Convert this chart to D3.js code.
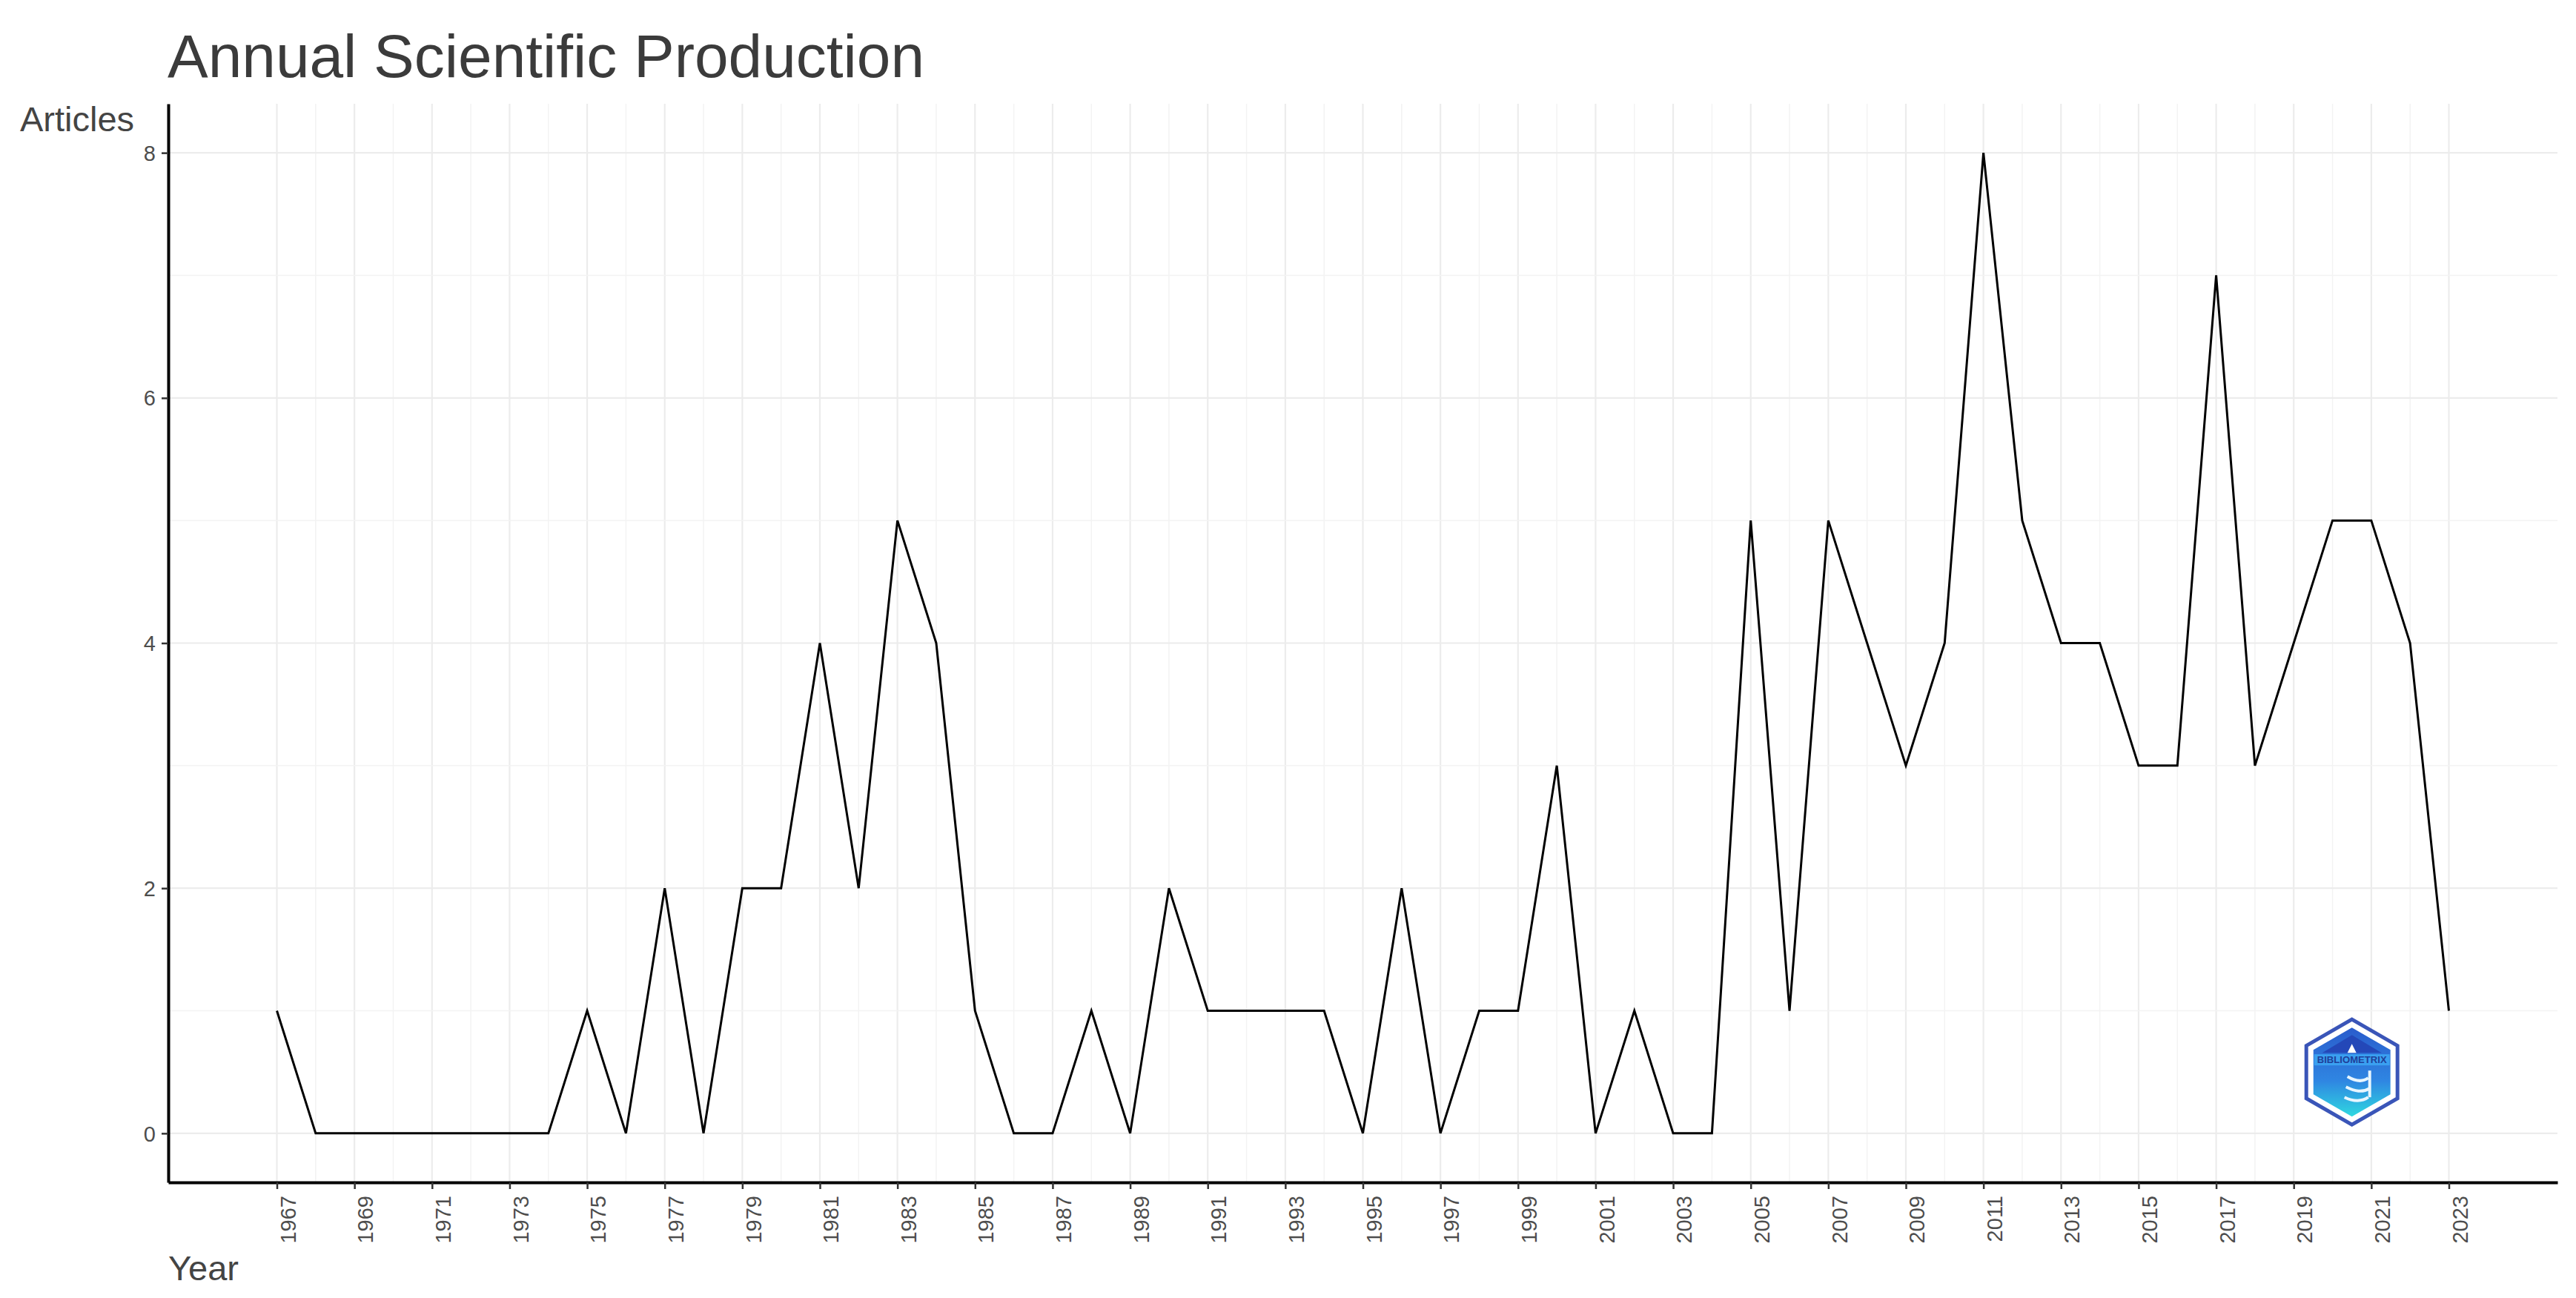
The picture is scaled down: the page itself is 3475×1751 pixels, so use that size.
<!DOCTYPE html>
<html>
<head>
<meta charset="utf-8">
<script src="https://cdn.jsdelivr.net/npm/d3@7/dist/d3.min.js"></script>
<style>
  html, body { margin: 0; padding: 0; background: #ffffff; }
  svg { display: block; font-family: "Liberation Sans", Arial, Helvetica, sans-serif; }
</style>
</head>
<body>
<svg id="chart" width="3475" height="1751"></svg>
<script>
// ---- data ----
const years = [1967,1968,1969,1970,1971,1972,1973,1974,1975,1976,1977,1978,1979,1980,1981,1982,1983,1984,1985,1986,1987,1988,1989,1990,1991,1992,1993,1994,1995,1996,1997,1998,1999,2000,2001,2002,2003,2004,2005,2006,2007,2008,2009,2010,2011,2012,2013,2014,2015,2016,2017,2018,2019,2020,2021,2022,2023];
const articles = [1,0,0,0,0,0,0,0,1,0,2,0,2,2,4,2,5,4,1,0,0,1,0,2,1,1,1,1,0,2,0,1,1,3,0,1,0,0,5,1,5,4,3,4,8,5,4,4,3,3,7,3,4,5,5,4,1];
const xTickLabels = [1967,1969,1971,1973,1975,1977,1979,1981,1983,1985,1987,1989,1991,1993,1995,1997,1999,2001,2003,2005,2007,2009,2011,2013,2015,2017,2019,2021,2023];
const yTickLabels = [0,2,4,6,8];
const yMinorTicks = [1,3,5,7];
const titleText = "Annual Scientific Production";
const xTitle = "Year";
const yTitle = "Articles";

// ---- layout ----
const svg = d3.select("#chart");
const panel = { left: 227, right: 3450, top: 140, bottom: 1595 };

const xMin = d3.min(years), xMax = d3.max(years);
const xPad = (xMax - xMin) * 0.05;
const yMaxV = d3.max(articles);
const yPad = yMaxV * 0.05;

const x = d3.scaleLinear().domain([xMin - xPad, xMax + xPad]).range([panel.left, panel.right]);
const y = d3.scaleLinear().domain([0 - yPad, yMaxV + yPad]).range([panel.bottom, panel.top]);

// ---- grid ----
const grid = svg.append("g");
const xMinorTicks = years.filter(v => !xTickLabels.includes(v));
grid.selectAll(".vminor").data(xMinorTicks).join("line")
  .attr("x1", d => x(d)).attr("x2", d => x(d))
  .attr("y1", panel.top).attr("y2", panel.bottom)
  .attr("stroke", "#f3f3f3").attr("stroke-width", 1.5);
grid.selectAll(".vmajor").data(xTickLabels).join("line")
  .attr("x1", d => x(d)).attr("x2", d => x(d))
  .attr("y1", panel.top).attr("y2", panel.bottom)
  .attr("stroke", "#ececec").attr("stroke-width", 2.2);
grid.selectAll(".hminor").data(yMinorTicks).join("line")
  .attr("x1", panel.left).attr("x2", panel.right)
  .attr("y1", d => y(d)).attr("y2", d => y(d))
  .attr("stroke", "#f3f3f3").attr("stroke-width", 1.5);
grid.selectAll(".hmajor").data(yTickLabels).join("line")
  .attr("x1", panel.left).attr("x2", panel.right)
  .attr("y1", d => y(d)).attr("y2", d => y(d))
  .attr("stroke", "#ececec").attr("stroke-width", 2.2);

// ---- logo (bibliometrix badge) ----
const logo = svg.append("g").attr("transform", `translate(${x(2020.5)},${y(0.5)})`);
const defs = svg.append("defs");
const grad = defs.append("linearGradient").attr("id", "lg").attr("x1", "0").attr("y1", "0").attr("x2", "0").attr("y2", "1");
grad.append("stop").attr("offset", "0%").attr("stop-color", "#2a5ccc");
grad.append("stop").attr("offset", "60%").attr("stop-color", "#2f86e2");
grad.append("stop").attr("offset", "100%").attr("stop-color", "#2fd8e0");
const hexPts = (r) => d3.range(6).map(i => {
  const a = Math.PI / 180 * (60 * i - 90);
  return [r * Math.cos(a), r * Math.sin(a)];
});
logo.append("polygon").attr("points", hexPts(71).map(p => p.join(",")).join(" "))
  .attr("fill", "#ffffff").attr("stroke", "#3a55b8").attr("stroke-width", 5);
logo.append("polygon").attr("points", hexPts(60).map(p => p.join(",")).join(" "))
  .attr("fill", "url(#lg)");
logo.append("path").attr("d", "M-40,-26 L0,-50 L40,-26 Z").attr("fill", "#2448b8");
logo.append("path").attr("d", "M-6,-26 L0,-38 L6,-26 Z").attr("fill", "#ffffff");
logo.append("rect").attr("x", -51).attr("y", -24).attr("width", 102).attr("height", 15).attr("fill", "#3aa0f0");
logo.append("text").attr("x", 0).attr("y", -12).attr("text-anchor", "middle")
  .attr("font-size", 12).attr("font-weight", "bold").attr("fill", "#1f3f99").attr("textLength", 94)
  .attr("lengthAdjust", "spacingAndGlyphs")
  .text("BIBLIOMETRIX");
logo.append("path").attr("d", "M-6,6 C4,12 14,14 22,8 M-8,20 C4,26 14,28 24,22 M-10,34 C2,40 14,40 22,34")
  .attr("stroke", "#e8f6ff").attr("stroke-width", 4).attr("fill", "none");
logo.append("path").attr("d", "M24,-2 L24,34").attr("stroke", "#e8f6ff").attr("stroke-width", 4);

// ---- data line ----
const line = d3.line().x((d, i) => x(years[i])).y(d => y(d));
svg.append("path").datum(articles)
  .attr("d", line).attr("fill", "none").attr("stroke", "#000000").attr("stroke-width", 3)
  .attr("stroke-linejoin", "miter");

// ---- axes ----
const xAxis = d3.axisBottom(x).tickValues(xTickLabels).tickFormat(d3.format("d")).tickSize(9).tickSizeOuter(0);
const gx = svg.append("g").attr("transform", `translate(0,${panel.bottom})`).call(xAxis);
gx.select(".domain").attr("stroke", "#000").attr("stroke-width", 4);
gx.selectAll(".tick line").attr("stroke", "#333").attr("stroke-width", 2.5);
gx.selectAll(".tick text")
  .attr("font-size", 29).attr("fill", "#4d4d4d")
  .attr("text-anchor", "end")
  .attr("transform", "rotate(-90)")
  .attr("x", -18).attr("y", 0).attr("dy", "0.85em").attr("dx", 0);

const yAxis = d3.axisLeft(y).tickValues(yTickLabels).tickFormat(d3.format("d")).tickSize(9).tickSizeOuter(0);
const gy = svg.append("g").attr("transform", `translate(${panel.left},0)`).call(yAxis);
gy.select(".domain").attr("stroke", "#000").attr("stroke-width", 4);
gy.selectAll(".tick line").attr("stroke", "#333").attr("stroke-width", 2.5);
gy.selectAll(".tick text").attr("font-size", 29).attr("fill", "#4d4d4d").attr("x", -17).attr("dy", "0.35em");

// ---- titles ----
svg.append("text").attr("x", 226).attr("y", 104).attr("font-size", 82).attr("fill", "#3b3b3b").text(titleText);
svg.append("text").attr("x", 27).attr("y", 177).attr("font-size", 47).attr("fill", "#444444").text(yTitle);
svg.append("text").attr("x", 227).attr("y", 1727).attr("font-size", 47).attr("fill", "#444444").text(xTitle);
</script>
</body>
</html>
